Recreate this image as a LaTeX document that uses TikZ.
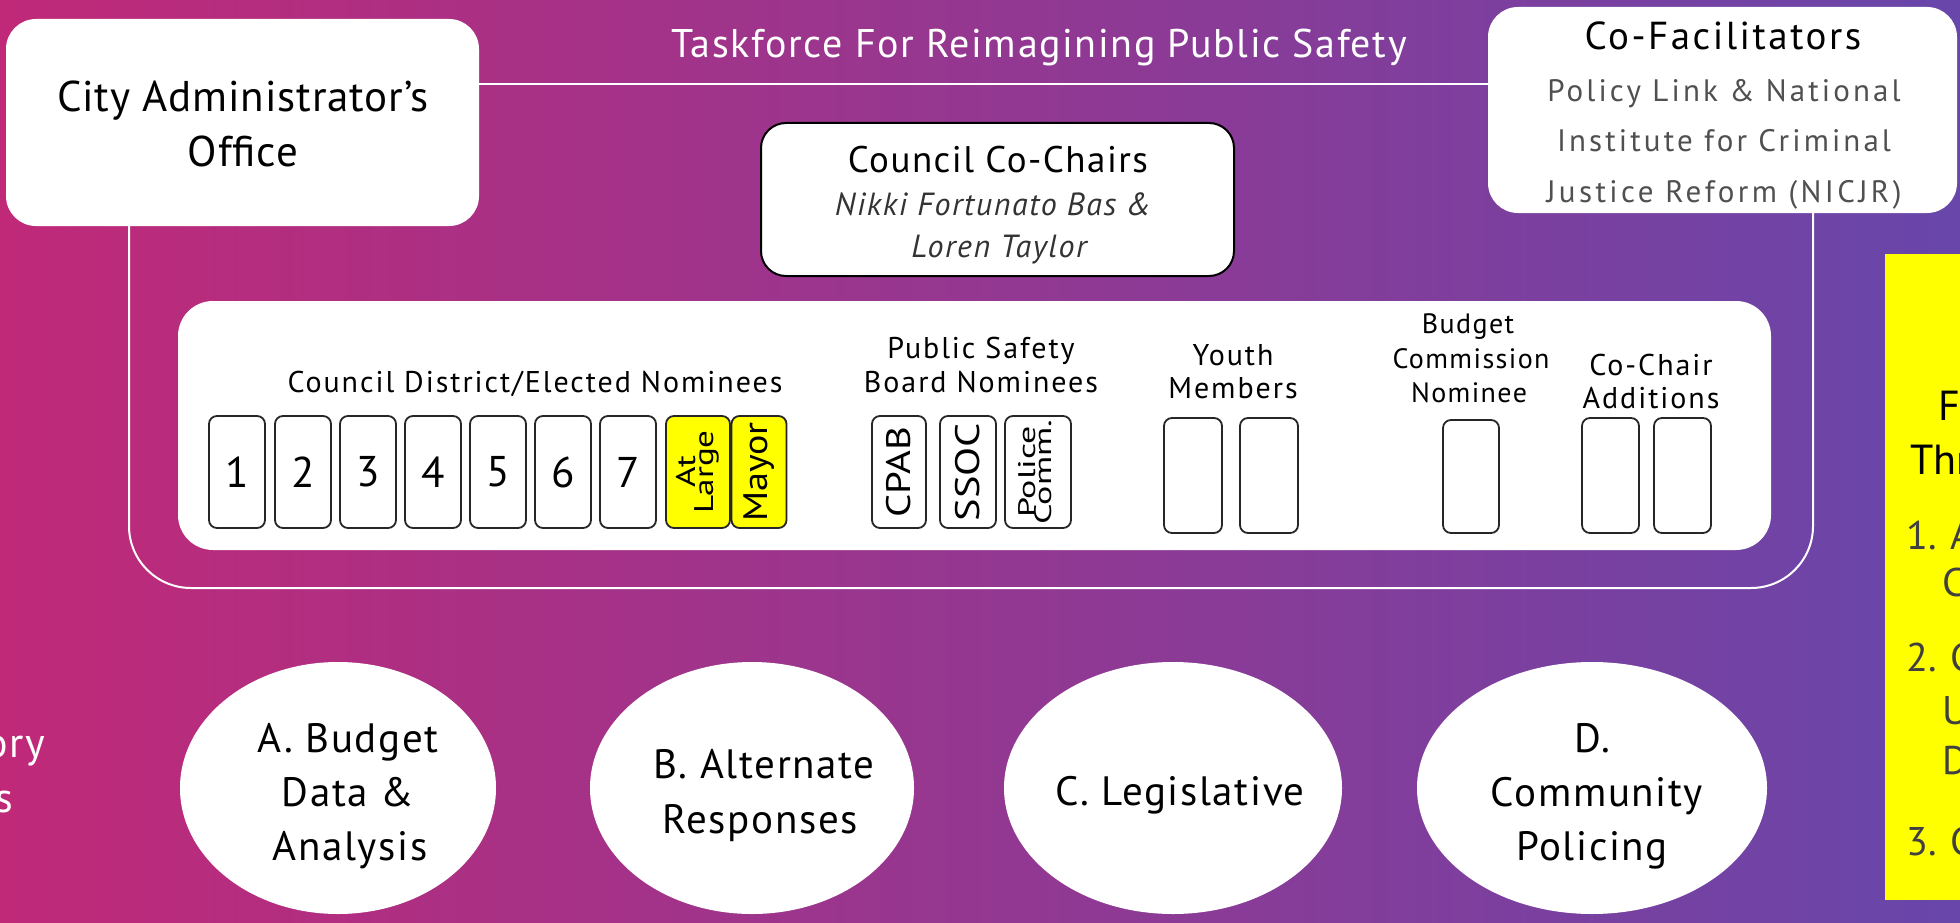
\documentclass[tikz,border=0pt]{standalone}
\usepackage{fontspec}
\setmainfont{PT Sans}
\usetikzlibrary{shapes.geometric}
\definecolor{bgL}{RGB}{192,41,120}
\definecolor{bgM}{RGB}{150,52,142}
\definecolor{bgR}{RGB}{104,70,170}
\definecolor{grayT}{RGB}{80,80,80}
\definecolor{hl}{RGB}{255,255,0}
\newcommand{\fsz}[3]{\fontsize{#1}{#2}\selectfont\addfontfeature{LetterSpace=#3}}
\newcommand{\vlab}[2]{\rotatebox{90}{\scalebox{#1}[1]{#2}}}
\newcommand{\twol}[2]{\begin{tabular}{@{}c@{}}#1\\[-8pt]#2\end{tabular}}
\tikzset{
  wbox/.style={fill=white, draw=none, rounded corners=30pt, inner sep=0pt},
  bbox/.style={fill=white, draw=black, line width=2pt, rounded corners=25pt, inner sep=0pt},
  seat/.style={fill=white, draw=black!85, line width=1.8pt, rounded corners=8pt, inner sep=0pt, minimum height=112pt},
  yseat/.style={seat, fill=hl},
  txt/.style={anchor=base, inner sep=0pt},
  grp/.style={txt, font=\fsz{30}{36}{6.5}},
  ell/.style={ellipse, fill=white, draw=none, inner sep=0pt},
  etxt/.style={txt, font=\fsz{41}{50}{4}},
  wline/.style={draw=white, line width=2pt},
}
\begin{document}
\begin{tikzpicture}[x=1pt, y=-1pt]
\useasboundingbox (0,0) rectangle (1960,923);
\clip (0,0) rectangle (1960,923);
\shade[left color=bgL, middle color=bgM, right color=bgR] (0,0) rectangle (1960,923);

% top boxes
\node[wbox, minimum width=473pt, minimum height=207pt] (ca) at (242.5,122.5) {};
\node[txt, font=\fsz{43}{50}{2}] (ca1) at (243,112) {City Administrator’s};
\node[txt, font=\fsz{43}{50}{2}] (ca2) at (243,167) {Office};

\node[wbox, minimum width=469pt, minimum height=206pt] (cf) at (1722.5,110) {};
\node[txt, font=\fsz{39}{44}{6.5}] (cf1) at (1723,50) {Co-Facilitators};
\node[txt, font=\fsz{31}{34}{10}, text=grayT] (cf2) at (1724,102) {Policy Link \& National};
\node[txt, font=\fsz{31}{34}{10}, text=grayT] (cf3) at (1724,152) {Institute for Criminal};
\node[txt, font=\fsz{31}{34}{11}, text=grayT] (cf4) at (1724,202) {Justice Reform (NICJR)};

\node[txt, font=\fsz{40}{46}{4}, text=white] (title) at (1039,58) {Taskforce For Reimagining Public Safety};

% connectors
\coordinate (ly) at (0,84);
\coordinate (fl) at (129,588);
\coordinate (fr) at (1813,588);
\draw[wline] (ca.east |- ly) -- (cf.west |- ly);
\draw[wline, rounded corners=62pt] (ca.south -| fl) -- (fl) -- (fr) -- (cf.south -| fr);

% co-chairs
\node[bbox, minimum width=473pt, minimum height=153pt] (cc) at (997.5,199.5) {};
\node[txt, font=\fsz{37}{42}{4}] (cc1) at (998,172) {Council Co-Chairs};
\node[txt, font=\fsz{32}{36}{5}\itshape, text=black!80] (cc2) at (993,215) {Nikki Fortunato Bas \&};
\node[txt, font=\fsz{32}{36}{5}\itshape, text=black!80] (cc3) at (999,257) {Loren Taylor};

% inner white panel
\node[wbox, rounded corners=35pt, minimum width=1593pt, minimum height=249pt] (panel) at (974.5,425.5) {};

\node[grp] (g1) at (535,392) {Council District/Elected Nominees};
\node[grp] (g2a) at (981,358) {Public Safety};
\node[grp] (g2b) at (981,392) {Board Nominees};
\node[grp] (g3a) at (1233,365) {Youth};
\node[grp] (g3b) at (1233,398) {Members};
\node[txt, font=\fsz{28}{34}{5}] (g4a) at (1468,333) {Budget};
\node[txt, font=\fsz{28}{34}{5}] (g4b) at (1471,368) {Commission};
\node[txt, font=\fsz{28}{34}{5}] (g4c) at (1469,402) {Nominee};
\node[grp] (g5a) at (1651,375) {Co-Chair};
\node[grp] (g5b) at (1651,408) {Additions};

% seats
\foreach \i/\x in {1/237,2/303,3/368,4/433,5/498,6/563,7/628}
  \node[seat, minimum width=56pt, font=\fsz{43}{50}{0}] (s\i) at (\x,472) {\i};
\node[yseat, minimum width=64pt] (sal) at (698,472) {\vlab{1.3}{\fsz{27}{22}{0}\twol{At}{Large}}};
\node[yseat, minimum width=55pt] (smy) at (759,472) {\vlab{1.12}{\fsz{34}{34}{0}Mayor}};
\node[seat, minimum width=54pt] (sp1) at (899,472) {\vlab{1.2}{\fsz{34}{34}{0}CPAB}};
\node[seat, minimum width=56pt] (sp2) at (968,472) {\vlab{1.25}{\fsz{34}{34}{0}SSOC}};
\node[seat, minimum width=66pt] (sp3) at (1038,472) {\vlab{1.5}{\fsz{24}{22}{0}\twol{Police}{Comm.}}};
\node[seat, minimum width=58pt, minimum height=115pt] (sy1) at (1193,475.5) {};
\node[seat, minimum width=58pt, minimum height=115pt] (sy2) at (1269,475.5) {};
\node[seat, minimum width=56pt, minimum height=113pt] (sb1) at (1471,476.5) {};
\node[seat, minimum width=57pt, minimum height=115pt] (sc1) at (1610.5,475.5) {};
\node[seat, minimum width=57pt, minimum height=115pt] (sc2) at (1682.5,475.5) {};

% working groups
\node[ell, minimum width=316pt, minimum height=252pt] (ea) at (338,788) {};
\node[etxt] (ea1) at (348,752) {A. Budget};
\node[etxt] (ea2) at (348,806) {Data \&};
\node[etxt] (ea3) at (350,860) {Analysis};
\node[ell, minimum width=324pt, minimum height=252pt] (eb) at (752,788) {};
\node[etxt] (eb1) at (764,778) {B. Alternate};
\node[etxt] (eb2) at (760,833) {Responses};
\node[ell, minimum width=338pt, minimum height=252pt] (ec) at (1173,788) {};
\node[etxt] (ec1) at (1180,805) {C. Legislative};
\node[ell, minimum width=350pt, minimum height=252pt] (ed) at (1592,788) {};
\node[etxt] (ed1) at (1592,752) {D.};
\node[etxt] (ed2) at (1597,806) {Community};
\node[etxt] (ed3) at (1592,860) {Policing};

% left cut-off text
\node[txt, anchor=base east, font=\fsz{42}{50}{3}, text=white] (lt1) at (45,757) {ory};
\node[txt, anchor=base east, font=\fsz{42}{50}{3}, text=white] (lt2) at (13,812) {s};

% yellow side panel
\node[fill=hl, draw=none, inner sep=0pt, minimum width=100pt, minimum height=646pt, anchor=north west] (yb) at (1885,254) {};
\node[txt, anchor=base west, font=\fsz{42}{50}{0}] (y1) at (1938,420) {F};
\node[txt, anchor=base west, font=\fsz{42}{50}{0}] (y2) at (1910,474) {Thr};
\node[txt, anchor=base west, font=\fsz{40}{50}{0}, text=black!75] (y3) at (1906,549) {1. A};
\node[txt, anchor=base west, font=\fsz{40}{50}{0}, text=black!75] (y4) at (1942,596) {C};
\node[txt, anchor=base west, font=\fsz{40}{50}{0}, text=black!75] (y5) at (1906,671) {2. C};
\node[txt, anchor=base west, font=\fsz{40}{50}{0}, text=black!75] (y6) at (1942,724) {U};
\node[txt, anchor=base west, font=\fsz{40}{50}{0}, text=black!75] (y7) at (1942,774) {D};
\node[txt, anchor=base west, font=\fsz{40}{50}{0}, text=black!75] (y8) at (1906,855) {3. C};
\end{tikzpicture}
\end{document}
